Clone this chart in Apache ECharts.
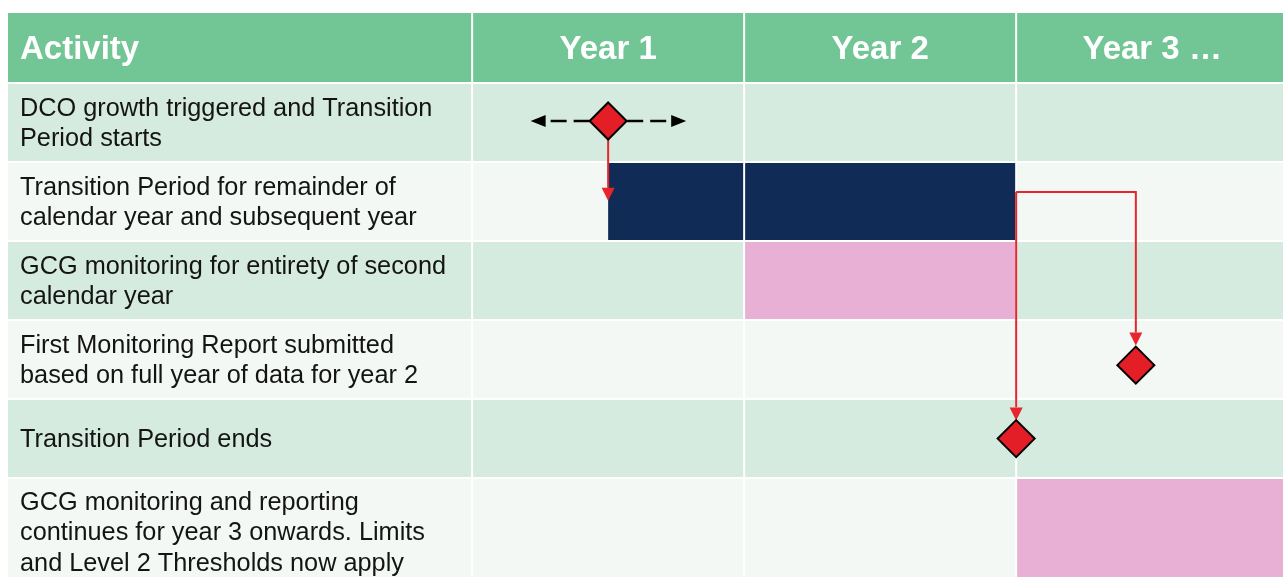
<!DOCTYPE html>
<html>
<head>
<meta charset="utf-8">
<script src="https://cdn.jsdelivr.net/npm/echarts@6/dist/echarts.min.js"></script>
<style>
    html, body { margin: 0; padding: 0; background: #fff; }
    #chart { width: 1283px; height: 577px; }
</style>
</head>
<body>
<div id="chart"></div>
<script>
// header texts and column edges (years on the x axis, the activity column sits left of 0)
var columns = ['Activity', 'Year 1', 'Year 2', 'Year 3 …'];
var colEdges = [-1.71, 0, 1, 2, 3.2];

// activity rows, top to bottom
var activities = [
    'DCO growth triggered and Transition\nPeriod starts',
    'Transition Period for remainder of\ncalendar year and subsequent year',
    'GCG monitoring for entirety of second\ncalendar year',
    'First Monitoring Report submitted\nbased on full year of data for year 2',
    'Transition Period ends',
    'GCG monitoring and reporting\ncontinues for year 3 onwards. Limits\nand Level 2 Thresholds now apply'
];
var rowEdges = [0, 1, 2, 3, 4, 5, 6.34];
var headerTop = -0.9;

// [start, end, row, kind]
var periods = [
    [0.5, 1, 1, 'transition'],
    [1, 2, 1, 'transition'],
    [1, 2, 2, 'monitoring'],
    [2, 3.2, 5, 'monitoring']
];

// milestone diamonds [x, y]
var milestones = [[0.5, 0.48], [2.44, 3.57], [2.0, 4.5]];

// dashed uncertainty arrows out from the trigger (from diamond to arrow tip)
var triggerRange = [
    [[0.5, 0.48], [0.215, 0.48]],
    [[0.5, 0.48], [0.787, 0.48]]
];

// red connectors (last point is the arrow tip)
var links = [
    [[0.5, 0.5], [0.5, 1.49]],
    [[2.0, 1.38], [2.44, 1.38], [2.44, 3.32]],
    [[2.0, 1.38], [2.0, 4.27]]
];

var kindColors = { transition: '#0F2B56', monitoring: '#E9B0D5' };
var headerColor = '#72C594';
var rowColors = ['#D6EBDF', '#F3F8F4'];
var fontFamily = '"Liberation Sans", Arial, sans-serif';

var myChart = echarts.init(document.getElementById('chart'));

// one item per cell: [colIndex, rowIndex] (rowIndex -1 is the header)
var cells = [];
for (var r = -1; r < activities.length; r++) {
    for (var c = 0; c < columns.length; c++) {
        cells.push([c, r]);
    }
}

function rectFor(api, x0, x1, y0, y1) {
    var p0 = api.coord([x0, y0]);
    var p1 = api.coord([x1, y1]);
    return { x: p0[0] + 1, y: p0[1] + 1, width: p1[0] - p0[0] - 2, height: p1[1] - p0[1] - 2 };
}

function renderCell(params, api) {
    var c = api.value(0);
    var r = api.value(1);
    var y0 = r < 0 ? headerTop : rowEdges[r];
    var y1 = r < 0 ? 0 : rowEdges[r + 1];
    var shape = rectFor(api, colEdges[c], colEdges[c + 1], y0, y1);
    var fill = r < 0 ? headerColor : rowColors[r % 2];
    var children = [{ type: 'rect', shape: shape, style: { fill: fill } }];

    if (r < 0) {
        var tx = c === 0 ? shape.x + 12 : shape.x + shape.width / 2;
        if (c === 3) tx = api.coord([2.5, 0])[0];
        children.push({
            type: 'text',
            x: tx,
            y: shape.y + shape.height / 2 + 2,
            style: {
                text: columns[c],
                fill: '#fff',
                font: 'bold 33px ' + fontFamily,
                align: c === 0 ? 'left' : 'center',
                verticalAlign: 'middle'
            }
        });
    } else if (c === 0) {
        var cy = r === 5 ? api.coord([0, 5.7])[1] : shape.y + shape.height / 2 + 1.5;
        children.push({
            type: 'text',
            x: shape.x + 12,
            y: cy,
            style: {
                text: activities[r],
                fill: '#141414',
                font: '25.3px ' + fontFamily,
                lineHeight: 30.5,
                align: 'left',
                verticalAlign: 'middle'
            }
        });
    }
    return { type: 'group', children: children };
}

function renderPeriod(params, api) {
    var r = api.value(2);
    var shape = rectFor(api, api.value(0), api.value(1), rowEdges[r], rowEdges[r + 1]);
    if (api.value(0) % 1 !== 0) {
        shape.x -= 1;
        shape.width += 1;
    }
    return {
        type: 'rect',
        shape: shape,
        style: { fill: kindColors[periods[params.dataIndex][3]] }
    };
}

// polyline with a filled triangle at its last point
function arrowPath(points, headLen, headWidth, color, width) {
    var n = points.length;
    var tip = points[n - 1];
    var prev = points[n - 2];
    var dx = tip[0] - prev[0];
    var dy = tip[1] - prev[1];
    var len = Math.sqrt(dx * dx + dy * dy);
    var ux = dx / len, uy = dy / len;
    var base = [tip[0] - ux * headLen, tip[1] - uy * headLen];
    var line = points.slice(0, n - 1).concat([base]);
    return [
        { type: 'polyline', shape: { points: line }, style: { stroke: color, lineWidth: width, fill: null } },
        {
            type: 'polygon',
            shape: {
                points: [
                    tip,
                    [base[0] - uy * headWidth / 2, base[1] + ux * headWidth / 2],
                    [base[0] + uy * headWidth / 2, base[1] - ux * headWidth / 2]
                ]
            },
            style: { fill: color }
        }
    ];
}

function renderTrigger(params, api) {
    var pts = triggerRange[params.dataIndex].map(function (p) { return api.coord(p); });
    var tip = pts[1];
    // dashes are laid out from the arrow head inwards
    var base = [tip[0] + (pts[0][0] > tip[0] ? 15 : -15), tip[1]];
    return {
        type: 'group',
        children: [
            {
                type: 'polyline',
                shape: { points: [base, pts[0]] },
                style: { stroke: '#000', lineWidth: 2.5, lineDash: [16, 7], lineDashOffset: 18, fill: null }
            },
            {
                type: 'polygon',
                shape: { points: [tip, [base[0], tip[1] - 6], [base[0], tip[1] + 6]] },
                style: { fill: '#000' }
            }
        ]
    };
}

function renderLink(params, api) {
    var pts = links[params.dataIndex].map(function (p) { return api.coord(p); });
    return { type: 'group', children: arrowPath(pts, 13, 13, '#E8252D', 2) };
}

var option = {
    animation: false,
    grid: { left: 7, right: 0, top: 12, bottom: 0 },
    xAxis: { type: 'value', min: -1.71, max: 2.981, show: false },
    yAxis: { type: 'value', min: headerTop, max: 6.252, inverse: true, show: false },
    series: [
        {
            type: 'custom',
            data: cells,
            renderItem: renderCell,
            z: 1
        },
        {
            type: 'custom',
            data: periods.map(function (p) { return [p[0], p[1], p[2]]; }),
            encode: { x: [0, 1], y: 2 },
            renderItem: renderPeriod,
            z: 2
        },
        {
            type: 'custom',
            data: triggerRange.map(function (s) { return [s[1][0], s[1][1]]; }),
            renderItem: renderTrigger,
            z: 3
        },
        {
            type: 'custom',
            data: links.map(function (l) { return l[l.length - 1]; }),
            renderItem: renderLink,
            z: 4
        },
        {
            type: 'scatter',
            data: milestones,
            symbol: 'diamond',
            symbolSize: 37,
            itemStyle: { color: '#E41E26', borderColor: '#000', borderWidth: 2, opacity: 1 },
            z: 5
        }
    ]
};

myChart.setOption(option);
</script>
</body>
</html>
